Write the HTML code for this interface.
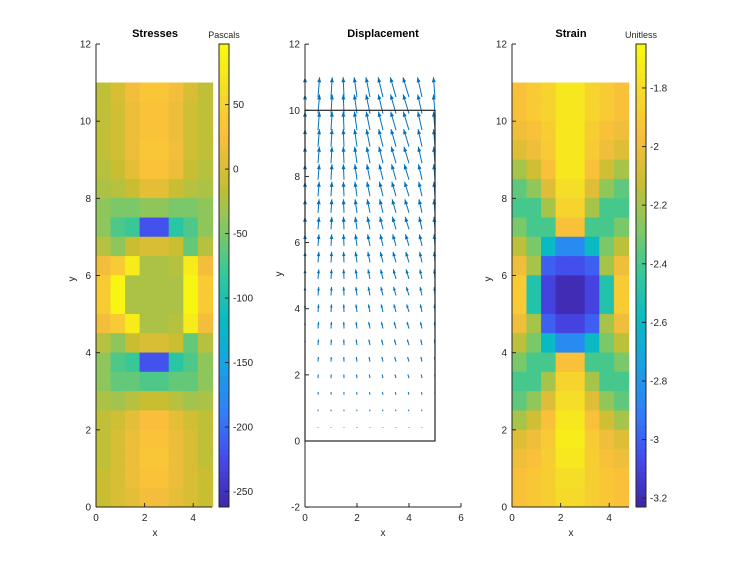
<!DOCTYPE html>
<html><head><meta charset="utf-8">
<style>
html,body{margin:0;padding:0;background:#fff;}
svg{display:block;font-family:"Liberation Sans",Arial,sans-serif;}
.tk{font-size:10px;fill:#262626;}
.ttl{font-size:11px;font-weight:bold;fill:#000;}
</style></head>
<body>
<svg id="fig" width="741" height="570" viewBox="0 0 741 570" xmlns="http://www.w3.org/2000/svg"></svg>
<script>
// ---- data ----
const stressRows = [
[-15,0,20,35,35,20,0,-15],
[-15,-5,15,30,30,15,-5,-15],
[-15,-5,15,30,30,15,-5,-15],
[-15,-5,15,35,35,20,-5,-15],
[-20,-10,10,30,30,15,-10,-20],
[-25,-20,-10,10,10,-10,-20,-25],
[-40,-50,-50,-40,-40,-50,-50,-40],
[-40,-70,-80,-220,-220,-90,-70,-40],
[-20,-40,-10,0,0,-10,-60,-20],
[20,40,80,-25,-25,-20,80,20],
[40,90,-25,-25,-25,-25,90,40],
[40,90,-25,-25,-25,-25,90,40],
[20,40,80,-25,-25,-20,80,20],
[-20,-40,-10,0,0,-10,-60,-20],
[-40,-70,-80,-220,-220,-90,-70,-40],
[-40,-60,-60,-70,-70,-60,-60,-40],
[-25,-30,-20,-10,-10,-20,-30,-25],
[-15,-5,10,25,25,10,-5,-15],
[-15,0,15,30,30,15,0,-15],
[-15,0,15,35,35,15,0,-15],
[-10,0,15,30,30,15,0,-10],
[-10,0,10,20,20,10,0,-10]];
const strainRows = [
[-1.95,-1.9,-1.85,-1.75,-1.75,-1.85,-1.9,-1.95],
[-1.95,-1.9,-1.85,-1.75,-1.75,-1.85,-1.9,-1.95],
[-2.0,-1.95,-1.88,-1.75,-1.75,-1.88,-1.95,-2.0],
[-2.05,-2.0,-1.9,-1.75,-1.75,-1.9,-2.0,-2.05],
[-2.2,-2.1,-1.95,-1.75,-1.75,-1.95,-2.1,-2.2],
[-2.35,-2.25,-2.05,-1.8,-1.8,-2.05,-2.25,-2.35],
[-2.4,-2.4,-2.2,-1.85,-1.85,-2.2,-2.4,-2.4],
[-2.3,-2.4,-2.4,-1.95,-1.95,-2.4,-2.4,-2.3],
[-2.15,-2.3,-2.6,-2.85,-2.85,-2.6,-2.3,-2.15],
[-2.0,-2.2,-3.0,-3.05,-3.05,-3.0,-2.2,-2.0],
[-1.9,-2.5,-3.1,-3.2,-3.2,-3.1,-2.5,-1.9],
[-1.9,-2.5,-3.1,-3.2,-3.2,-3.1,-2.5,-1.9],
[-2.0,-2.2,-3.0,-3.1,-3.1,-3.0,-2.2,-2.0],
[-2.15,-2.3,-2.6,-2.85,-2.85,-2.6,-2.3,-2.15],
[-2.3,-2.4,-2.4,-1.95,-1.95,-2.4,-2.4,-2.3],
[-2.4,-2.4,-2.2,-1.85,-1.85,-2.2,-2.4,-2.4],
[-2.35,-2.25,-2.05,-1.8,-1.8,-2.05,-2.25,-2.35],
[-2.2,-2.1,-1.95,-1.75,-1.75,-1.95,-2.1,-2.2],
[-2.05,-2.0,-1.9,-1.72,-1.72,-1.9,-2.0,-2.05],
[-2.0,-1.95,-1.88,-1.75,-1.75,-1.88,-1.95,-2.0],
[-1.95,-1.92,-1.88,-1.8,-1.8,-1.88,-1.92,-1.95],
[-1.95,-1.92,-1.88,-1.82,-1.82,-1.88,-1.92,-1.95]];
const quiverY = [0.4,0.9,1.4,1.9,2.4,2.9,3.4,3.9,4.4,4.9,5.4,5.9,6.4,6.9,7.4,7.9,8.4,8.9,9.4,9.9,10.4];
const quiverUy = [0.02,0.05,0.08,0.11,0.14,0.17,0.2,0.23,0.26,0.29,0.32,0.35,0.38,0.41,0.44,0.47,0.5,0.53,0.56,0.58,0.6];
const quiverX = [0,0.5,1,1.5,2,2.5,3,3.5,4,4.5,5];
const quiverTilt = [0,0.08,0.06,-0.04,-0.14,-0.2,-0.24,-0.28,-0.3,-0.22,-0.08];
const stressTicks = [50,0,-50,-100,-150,-200,-250];
const strainTicks = [-1.8,-2,-2.2,-2.4,-2.6,-2.8,-3,-3.2];
const yTicksA = [0,2,4,6,8,10,12];
const yTicksB = [-2,0,2,4,6,8,10,12];

// ---- helpers ----
const NS="http://www.w3.org/2000/svg";
const svg=document.getElementById('fig');
function mk(tag,attrs,parent){const e=document.createElementNS(NS,tag);for(const k in attrs)e.setAttribute(k,attrs[k]);(parent||svg).appendChild(e);return e;}
const PAR=[[0,62,38,168],[0.1,70,72,235],[0.2,50,125,250],[0.3,25,160,228],[0.4,10,185,195],[0.5,50,200,155],[0.6,130,200,100],[0.7,200,190,50],[0.8,250,190,60],[0.9,245,220,40],[1,249,251,14]];
function parula(t){t=Math.max(0,Math.min(1,t));for(let i=1;i<PAR.length;i++){if(t<=PAR[i][0]){const a=PAR[i-1],b=PAR[i],f=(t-a[0])/(b[0]-a[0]);return 'rgb('+[1,2,3].map(j=>Math.round(a[j]+(b[j]-a[j])*f)).join(',')+')';}}return 'rgb(249,251,14)';}

function yAxis(x0,ticks,sy,top,bottom){
  const ax=mk('line',{x1:x0,y1:top,x2:x0,y2:bottom,stroke:'#262626','stroke-width':1});
  
  ticks.forEach(v=>{const y=sy(v);
    mk('line',{x1:x0,y1:y,x2:x0+4,y2:y,stroke:'#262626'});
    const t=mk('text',{x:x0-5,y:y+3.5,'text-anchor':'end',class:'tk'});t.textContent=v;
    });
}
function xAxis(y0,ticks,sx,left,right){
  const ax=mk('line',{x1:left,y1:y0,x2:right,y2:y0,stroke:'#262626','stroke-width':1});
  
  ticks.forEach(v=>{const x=sx(v);
    mk('line',{x1:x,y1:y0,x2:x,y2:y0-4,stroke:'#262626'});
    const t=mk('text',{x:x,y:y0+14,'text-anchor':'middle',class:'tk'});t.textContent=v;
    });
}
function label(txt,x,y,rot,cls,name){const t=mk('text',{x:x,y:y,'text-anchor':'middle',class:cls||'tk'});if(rot)t.setAttribute('transform','rotate(-90 '+x+' '+y+')');t.textContent=txt;
  return t;}

function field(rows,x0,pxX,vmin,vmax,name){
  const g=mk('g',{});
  const sy=v=>507-v*38.58;
  const cw=0.6, ch=0.5;
  rows.forEach((row,r)=>{const yTop=11-r*ch;row.forEach((v,c)=>{
    const xa=x0+c*cw*pxX,xb=x0+(c+1)*cw*pxX,ya=sy(yTop),yb=sy(yTop-ch);
    const col=parula((v-vmin)/(vmax-vmin));
    const p=mk('rect',{x:xa,y:ya,width:xb-xa+0.4,height:yb-ya+0.4,fill:col,stroke:col,'stroke-width':0.3},g);
    });});
}
function colorbar(x,vmin,vmax,ticks,unit,name){
  const g=mk('g',{});
  const top=44,bot=507,n=80;
  for(let i=0;i<n;i++){const y=top+(bot-top)*i/n;mk('rect',{x:x,y:y,width:10,height:(bot-top)/n+0.5,fill:parula(1-(i+0.5)/n)},g);}
  mk('rect',{x:x,y:top,width:10,height:bot-top,fill:'none',stroke:'#262626','stroke-width':1},g);
  const sc=v=>bot-(v-vmin)/(vmax-vmin)*(bot-top);
  ticks.forEach(v=>{const y=sc(v);mk('line',{x1:x+10,y1:y,x2:x+6,y2:y,stroke:'#262626'},g);
    const t=mk('text',{x:x+14,y:y+3.5,class:'tk'},g);t.textContent=v;
    });
  const u=mk('text',{x:x+5,y:38,'text-anchor':'middle',class:'tk',style:'font-size:9px'},g);u.textContent=unit;
  
}

// ---- Panel 1: Stresses ----
const syA=v=>507-v*38.58;
field(stressRows,96,24.3,-262,97,'stress-field');
yAxis(96,yTicksA,syA,44,507);
xAxis(507,[0,2,4],v=>96+v*24.3,96,212);
label('Stresses',155,37,false,'ttl','stresses-title');
label('y',75,279,true,'tk','y-axis-title');
label('x',155,536,false,'tk','x-axis-title');
colorbar(219,-262,97,stressTicks,'Pascals','stress-colorbar');

// ---- Panel 2: Displacement ----
const sx2=v=>305+v*26, sy2=v=>441-v*33.07;
const qg=mk('g',{});
quiverY.forEach((yv,r)=>{quiverX.forEach((xv,c)=>{
  const uy=quiverUy[r], ux=quiverTilt[c]*uy*1.3;
  const x1=sx2(xv),y1=sy2(yv),x2=sx2(xv+ux),y2=sy2(yv+uy);
  const a=mk('line',{x1:x1,y1:y1,x2:x2,y2:y2,stroke:'#0072bd','stroke-width':1},qg);
  
  const L=Math.hypot(x2-x1,y2-y1); if(L>2){const dx=(x2-x1)/L,dy=(y2-y1)/L,h=Math.min(5,L*0.4);
    mk('path',{d:`M${x2} ${y2} L${x2-dx*h-dy*h*0.4} ${y2-dy*h+dx*h*0.4} L${x2-dx*h+dy*h*0.4} ${y2-dy*h-dx*h*0.4}Z`,fill:'#0072bd'},qg);}
});});
const bnd=mk('rect',{x:sx2(0),y:sy2(10),width:sx2(5)-sx2(0),height:sy2(0)-sy2(10),fill:'none',stroke:'#262626','stroke-width':1.2});

yAxis(305,yTicksB,sy2,44,507);
xAxis(507,[0,2,4,6],sx2,305,461);
label('Displacement',383,37,false,'ttl','displacement-title');
label('y',282,274,true,'tk','y-axis-title-2');
label('x',383,536,false,'tk','x-axis-title-2');

// ---- Panel 3: Strain ----
field(strainRows,512,24.3,-3.23,-1.65,'strain-field');
yAxis(512,yTicksA,syA,44,507);
xAxis(507,[0,2,4],v=>512+v*24.3,512,629);
label('Strain',571,37,false,'ttl','strain-title');
label('y',491,279,true,'tk','y-axis-title-3');
label('x',571,536,false,'tk','x-axis-title-3');
colorbar(636,-3.23,-1.65,strainTicks,'Unitless','strain-colorbar');
</script>
</body></html>
